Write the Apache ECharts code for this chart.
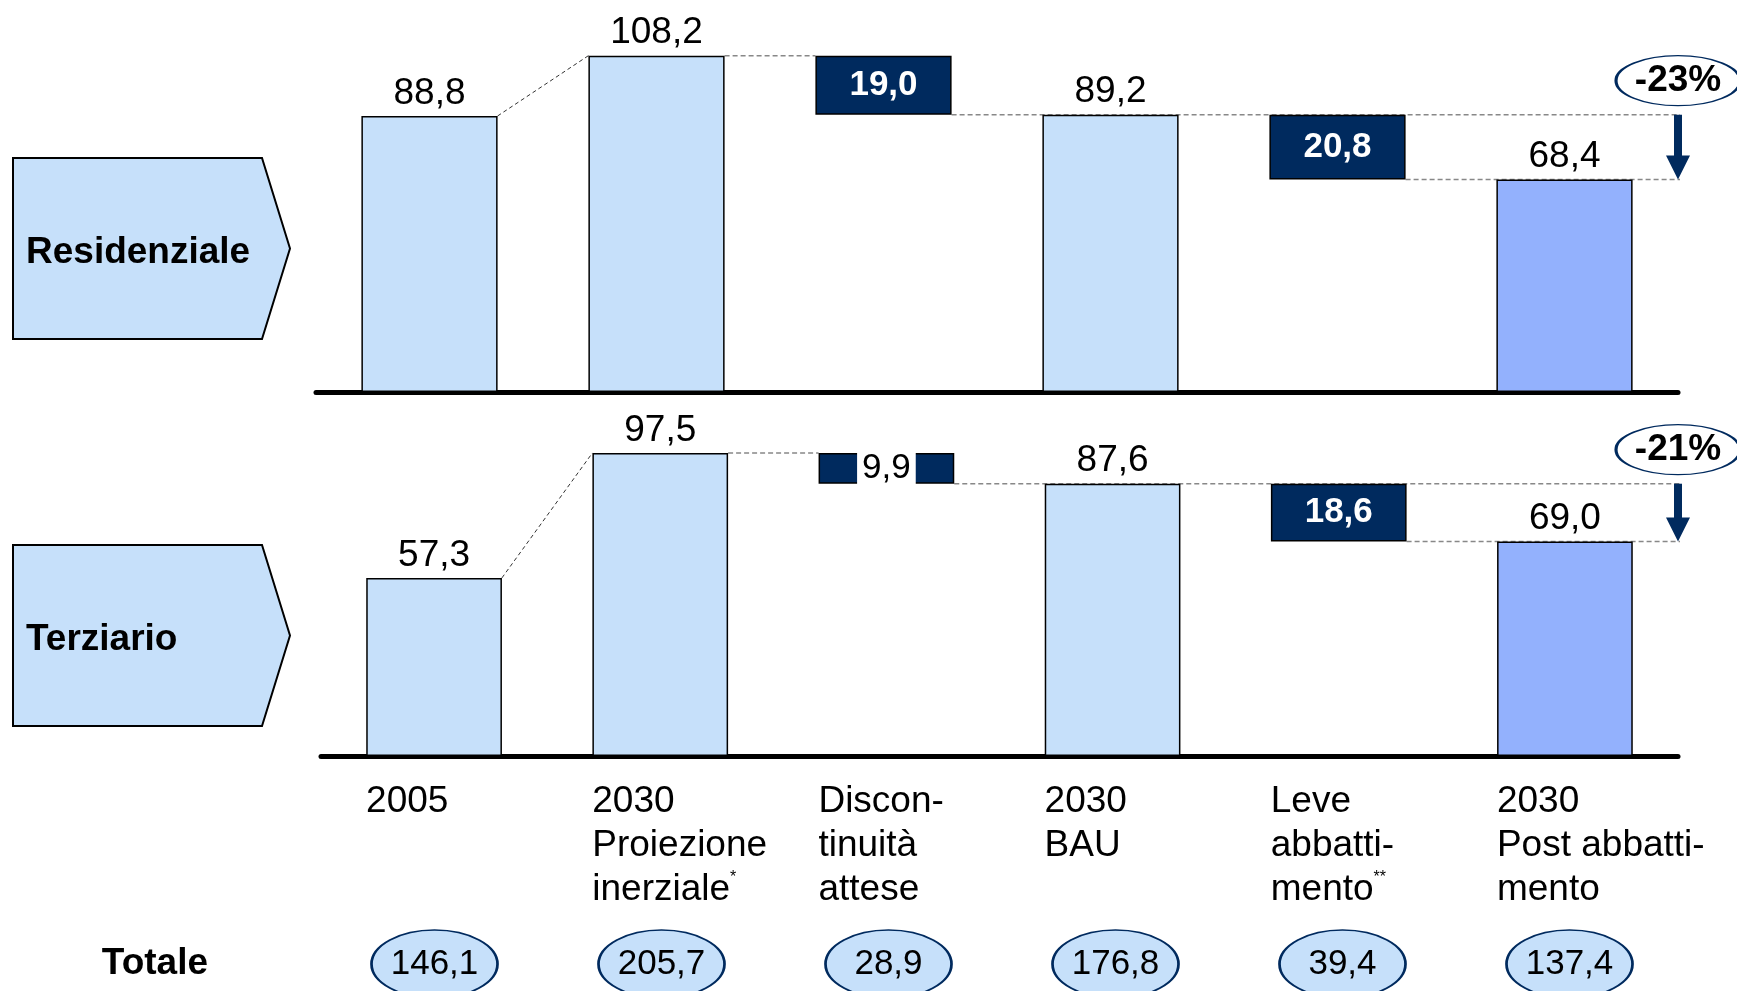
<!DOCTYPE html>
<html>
<head>
<meta charset="utf-8">
<title>Residenziale / Terziario</title>
<script src="https://cdn.jsdelivr.net/npm/echarts@6/dist/echarts.min.js"></script>
<style>
  html, body { margin: 0; padding: 0; background: #fff; }
  #chart { width: 1737px; height: 991px; }
</style>
</head>
<body>
<div id="chart"></div>
<script>
// categorie (asse x)
const categories = ['2005', '2030\nProiezione\ninerziale*', 'Discon-\ntinuità\nattese', '2030\nBAU', 'Leve\nabbatti-\nmento**', '2030\nPost abbatti-\nmento']

// Residenziale
const resValues = [88.8, 108.2, 19.0, 89.2, 20.8, 68.4]
const resBase = [0, 0, 89.2, 0, 68.4, 0]
const resPct = '-23%'

// Terziario
const terValues = [57.3, 97.5, 9.9, 87.6, 18.6, 69.0]
const terBase = [0, 0, 87.6, 0, 69.0, 0]
const terPct = '-21%'

// Totale
const totals = [146.1, 205.7, 28.9, 176.8, 39.4, 137.4]

const FONT = '"Liberation Sans", Arial, sans-serif'
const LIGHT = '#C6E0FA'
const FINAL = '#93B1FD'
const NAVY = '#002A5E'
const HALF = 0.3      // metà larghezza barra (60%)
const LINE_END = 5.55 // fine linee tratteggiate

const fmt = v => v.toFixed(1).replace('.', ',')

function barItems(vals, bases) {
  return vals.map((v, i) => {
    const floating = bases[i] > 0
    const last = i === vals.length - 1
    const item = { value: v, itemStyle: { color: floating ? NAVY : (last ? FINAL : LIGHT) } }
    if (floating) {
      item.label = v < 12
        ? { position: 'inside', color: '#000', fontWeight: 'normal', fontSize: 35, backgroundColor: '#fff', padding: [5, 5] }
        : { position: 'inside', color: '#fff', fontWeight: 'bold', fontSize: 35 }
    }
    return item
  })
}

function connectors(vals, bases, xIdx, yIdx) {
  const dashed = { color: '#888', width: 1.5, type: [5, 3] }
  const segs = [
    { data: [[HALF, vals[0]], [1 - HALF, vals[1]]], style: { color: '#333', width: 1, type: [4, 3] } },
    { data: [[1 + HALF, vals[1]], [2 - HALF, vals[1]]], style: dashed },
    { data: [[2 + HALF, bases[2]], [LINE_END, bases[2]]], style: dashed },
    { data: [[4 + HALF, bases[4]], [LINE_END, bases[4]]], style: dashed }
  ]
  return segs.map(s => ({
    type: 'line', xAxisIndex: xIdx, yAxisIndex: yIdx, z: 1, silent: true,
    symbol: 'none', data: s.data, lineStyle: s.style, animation: false
  }))
}

function arrowItem(params, api) {
  const p0 = api.coord([api.value(0), api.value(1)])
  const p1 = api.coord([api.value(0), api.value(2)])
  const head = 24
  return {
    type: 'group',
    children: [
      { type: 'rect', shape: { x: p0[0] - 4, y: p0[1], width: 8, height: p1[1] - p0[1] - head + 2 }, style: { fill: NAVY } },
      { type: 'polygon', shape: { points: [[p1[0] - 12, p1[1] - head], [p1[0] + 12, p1[1] - head], [p1[0], p1[1]]] }, style: { fill: NAVY } }
    ]
  }
}

function panelSeries(vals, bases, pct, catIdx, valIdx, yIdx, stackName) {
  return [
    {
      type: 'bar', xAxisIndex: catIdx, yAxisIndex: yIdx, stack: stackName, barWidth: '60%', z: 2,
      data: bases, itemStyle: { color: 'rgba(0,0,0,0)', borderWidth: 0 }, label: { show: false }, silent: true
    },
    {
      type: 'bar', xAxisIndex: catIdx, yAxisIndex: yIdx, stack: stackName, barWidth: '60%', z: 3,
      data: barItems(vals, bases),
      itemStyle: { borderColor: '#000', borderWidth: 1.5 },
      label: { show: true, position: 'top', distance: 4, fontSize: 37, color: '#000', fontFamily: FONT, formatter: p => fmt(p.value) }
    },
    ...connectors(vals, bases, valIdx, yIdx),
    {
      type: 'custom', xAxisIndex: valIdx, yAxisIndex: yIdx, z: 5, silent: true,
      data: [[5.5, vals[3], vals[5]]], renderItem: arrowItem
    },
    {
      type: 'scatter', xAxisIndex: valIdx, yAxisIndex: yIdx, z: 6, silent: true,
      data: [[5.5, vals[3]]], symbol: 'circle', symbolSize: [124, 50], symbolOffset: [0, -34],
      itemStyle: { color: '#fff', borderColor: NAVY, borderWidth: 2, opacity: 1 },
      label: { show: true, position: 'inside', formatter: () => pct, fontSize: 37, fontWeight: 'bold', color: '#000', fontFamily: FONT }
    }
  ]
}

function chevron(top, bottom, text) {
  const mid = (top + bottom) / 2
  return [
    {
      type: 'polygon', z: 10,
      shape: { points: [[13, top], [262, top], [290, mid], [262, bottom], [13, bottom]] },
      style: { fill: LIGHT, stroke: '#000', lineWidth: 2 }
    },
    {
      type: 'text', z: 11, x: 26, y: mid + 4,
      style: { text: text, font: 'bold 37px ' + FONT, fill: '#000', textVerticalAlign: 'middle' }
    }
  ]
}

const hiddenVal = (gi, max) => ({ type: 'value', gridIndex: gi, min: 0, max: max, show: false })
const hiddenX = gi => ({ type: 'value', gridIndex: gi, min: -0.5, max: 5.5, show: false })
const baseline = gi => ({
  type: 'category', gridIndex: gi, data: categories,
  axisLine: { show: true, lineStyle: { color: '#000', width: 5, cap: 'round' } },
  axisTick: { show: false }, axisLabel: { show: false }
})

const chart = echarts.init(document.getElementById('chart'))

chart.setOption({
  animation: false,
  backgroundColor: '#fff',
  textStyle: { fontFamily: FONT },
  grid: [
    { left: 316, width: 1362, top: 19, height: 373 },
    { left: 321, width: 1357, top: 383, height: 373 },
    { left: 253, width: 1357, top: 760, height: 14 },
    { left: 321, width: 1362, top: 937, height: 54 }
  ],
  xAxis: [
    baseline(0),
    hiddenX(0),
    baseline(1),
    hiddenX(1),
    {
      type: 'category', gridIndex: 2, data: categories,
      axisLine: { show: false }, axisTick: { show: false },
      axisLabel: {
        interval: 0, align: 'left', verticalAlign: 'top', margin: 6,
        fontSize: 37, lineHeight: 44, color: '#000', fontFamily: FONT,
        formatter: v => v.replace(/(\*+)$/, '{s|$1}'),
        rich: { s: { fontSize: 16, lineHeight: 44, padding: [0, 0, 24, 0], color: '#000' } }
      }
    },
    {
      type: 'category', gridIndex: 3, data: categories,
      axisLine: { show: false }, axisTick: { show: false }, axisLabel: { show: false }
    }
  ],
  yAxis: [
    hiddenVal(0, 120),
    hiddenVal(1, 120),
    hiddenVal(2, 1),
    {
      type: 'category', gridIndex: 3, data: ['Totale'],
      axisLine: { show: false }, axisTick: { show: false },
      axisLabel: { margin: 113, fontSize: 37, fontWeight: 'bold', color: '#000', fontFamily: FONT }
    }
  ],
  graphic: [
    ...chevron(158, 339, 'Residenziale'),
    ...chevron(545, 726, 'Terziario'),
    { type: 'text', x: 139, y: -14, style: { text: '2', font: '18px ' + FONT, fill: '#999' } }
  ],
  series: [
    ...panelSeries(resValues, resBase, resPct, 0, 1, 0, 'res'),
    ...panelSeries(terValues, terBase, terPct, 2, 3, 1, 'ter'),
    {
      type: 'scatter', xAxisIndex: 5, yAxisIndex: 3, silent: true,
      data: totals.map((v, i) => [i, 0, v]),
      symbol: 'circle', symbolSize: [126, 68],
      itemStyle: { color: LIGHT, borderColor: NAVY, borderWidth: 2, opacity: 1 },
      label: { show: true, position: 'inside', fontSize: 35, color: '#000', fontFamily: FONT, formatter: p => fmt(p.value[2]) }
    }
  ]
})

window.addEventListener('resize', () => chart.resize())
</script>
</body>
</html>
